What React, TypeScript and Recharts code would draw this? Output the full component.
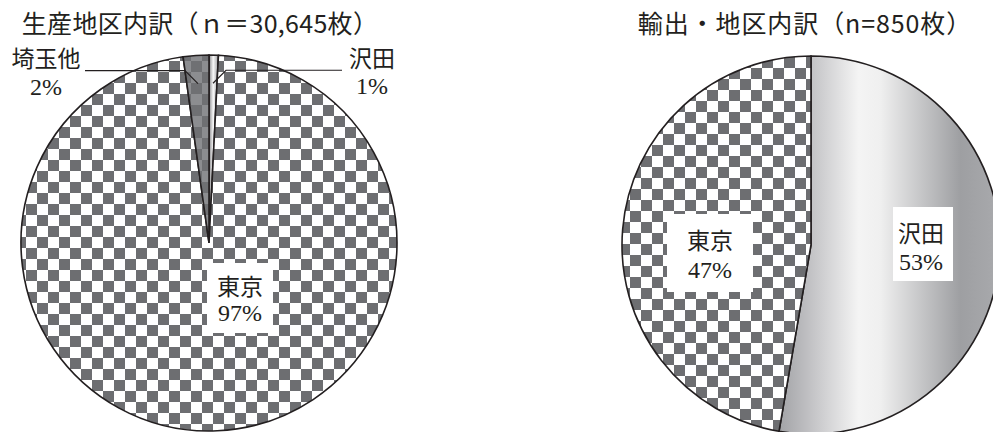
import React from 'react';
import { PieChart, Pie, Cell } from 'recharts';

// ---- data ----
const LEFT_TITLE = '生産地区内訳（ｎ＝30,645枚）';
const RIGHT_TITLE = '輸出・地区内訳（n=850枚）';
const LEFT_NAMES = ['沢田', '東京', '埼玉他'];
const LEFT_VALUES = [245, 29726, 674];
const RIGHT_NAMES = ['沢田', '東京'];
const RIGHT_VALUES = [448, 402];

const leftData = LEFT_NAMES.map((name, i) => ({ name, value: LEFT_VALUES[i] }));
const rightData = RIGHT_NAMES.map((name, i) => ({ name, value: RIGHT_VALUES[i] }));

const INK = '#231f20';
const LABEL_FONT = '"Liberation Serif", "Noto Sans CJK JP", serif';
const TITLE_FONT = '"Noto Sans CJK JP", "Noto Sans", sans-serif';

const leftFills: Record<string, string> = {
  '沢田': 'url(#silverThin)',
  '東京': 'url(#checkL)',
  '埼玉他': 'url(#checkDark)',
};
const rightFills: Record<string, string> = {
  '沢田': 'url(#silver)',
  '東京': 'url(#checkR)',
};

const RAD = Math.PI / 180;
const polar = (cx: number, cy: number, r: number, a: number) => ({
  x: cx + r * Math.cos(-a * RAD),
  y: cy + r * Math.sin(-a * RAD),
});

// boxed label placements, relative to pie centre
const BOXED: Record<string, { tx: number; y1: number; y2: number; bx: number; by: number; bw: number; bh: number }> = {
  'L-東京': { tx: 31, y1: 44, y2: 70, bx: -2, by: 20, bw: 66, bh: 70 },
  'R-東京': { tx: -101, y1: -4, y2: 25, bx: -144, by: -31, bw: 86, bh: 78 },
  'R-沢田': { tx: 110, y1: -11, y2: 17, bx: 82, by: -38, bw: 60, bh: 74 },
};

const txtStyle = (size: number): React.CSSProperties => ({ fontFamily: LABEL_FONT, fontSize: size });

const makeLabel = (side: 'L' | 'R') => (p: any) => {
  const { cx, cy, midAngle, outerRadius, percent } = p;
  const name = p.name ?? p.payload?.name;
  const pct = Math.round(percent * 100) + '%';
  const key = side + '-' + name;
  const box = BOXED[key];
  if (box) {
    return (
      <g>
        <rect x={cx + box.bx} y={cy + box.by} width={box.bw} height={box.bh} fill="#fff" />
        <text x={cx + box.tx} y={cy + box.y1} textAnchor="middle" dominantBaseline="central"
          style={txtStyle(23)} fill={INK}>{name}</text>
        <text x={cx + box.tx} y={cy + box.y2} textAnchor="middle" dominantBaseline="central"
          style={txtStyle(24)} fill={INK}>{pct}</text>
      </g>
    );
  }
  // leader-line labels for the thin slices
  const s = Math.cos(midAngle * RAD) < 0 ? -1 : 1;
  const inner = polar(cx, cy, outerRadius * 0.85, midAngle);
  const elbow = { x: inner.x + s * 13, y: inner.y - 13 };
  const endX = cx + (s < 0 ? -124 : 133);
  const textX = cx + s * 163;
  return (
    <g>
      <polyline points={`${inner.x},${inner.y} ${elbow.x},${elbow.y} ${endX},${elbow.y}`}
        fill="none" stroke={INK} strokeWidth={1.2} />
      <text x={textX} y={elbow.y - 11} textAnchor="middle" dominantBaseline="central"
        style={txtStyle(23)} fill={INK}>{name}</text>
      <text x={textX} y={elbow.y + 16} textAnchor="middle" dominantBaseline="central"
        style={txtStyle(24)} fill={INK}>{pct}</text>
    </g>
  );
};

const Defs = () => (
  <svg width={0} height={0} style={{ position: 'absolute' }}>
    <defs>
      <pattern id="checkL" patternUnits="userSpaceOnUse" x={4} y={6} width={22} height={22}>
        <rect width={22} height={22} fill="#fff" />
        <rect x={0} y={0} width={11} height={11} fill="#6d6e71" />
        <rect x={11} y={11} width={11} height={11} fill="#6d6e71" />
      </pattern>
      <pattern id="checkR" patternUnits="userSpaceOnUse" x={14} y={13} width={22} height={22}>
        <rect width={22} height={22} fill="#fff" />
        <rect x={0} y={0} width={11} height={11} fill="#6d6e71" />
        <rect x={11} y={11} width={11} height={11} fill="#6d6e71" />
      </pattern>
      <pattern id="checkDark" patternUnits="userSpaceOnUse" x={4} y={6} width={22} height={22}>
        <rect width={22} height={22} fill="#8c8d90" />
        <rect x={0} y={0} width={11} height={11} fill="#6f7073" />
        <rect x={11} y={11} width={11} height={11} fill="#6f7073" />
      </pattern>
      <linearGradient id="silver" x1="0" y1="0" x2="1" y2="0">
        <stop offset="0" stopColor="#a2a3a6" />
        <stop offset="0.12" stopColor="#bdbdc0" />
        <stop offset="0.36" stopColor="#f4f4f4" />
        <stop offset="0.46" stopColor="#efefef" />
        <stop offset="0.82" stopColor="#9e9fa2" />
        <stop offset="1" stopColor="#a9aaad" />
      </linearGradient>
      <linearGradient id="silverThin" x1="0" y1="0" x2="1" y2="0">
        <stop offset="0" stopColor="#8a8a8d" />
        <stop offset="0.45" stopColor="#f8f8f8" />
        <stop offset="1" stopColor="#9a9a9d" />
      </linearGradient>
    </defs>
  </svg>
);

const titleStyle = (center: number, spacing: number): React.CSSProperties => ({
  position: 'absolute',
  left: center - 250,
  width: 500,
  top: 10,
  textAlign: 'center',
  fontFamily: TITLE_FONT,
  fontSize: 25,
  lineHeight: '25px',
  letterSpacing: spacing,
  color: INK,
  whiteSpace: 'nowrap',
});

export default function App() {
  return (
    <div style={{ position: 'absolute', left: 0, top: 0, width: 993, height: 432, background: '#fff', overflow: 'hidden' }}>
      <Defs />
      <PieChart width={993} height={432} margin={{ top: 0, right: 0, bottom: 0, left: 0 }}>
        <Pie
          data={leftData}
          dataKey="value"
          nameKey="name"
          cx={209}
          cy={243}
          outerRadius={188}
          startAngle={90}
          endAngle={-270}
          stroke={INK}
          strokeWidth={1.6}
          labelLine={false}
          label={makeLabel('L')}
          isAnimationActive={false}
        >
          {leftData.map((d) => (
            <Cell key={d.name} fill={leftFills[d.name]} stroke={INK} strokeWidth={1.6} />
          ))}
        </Pie>
        <Pie
          data={rightData}
          dataKey="value"
          nameKey="name"
          cx={811}
          cy={245}
          outerRadius={189}
          startAngle={90}
          endAngle={-270}
          stroke={INK}
          strokeWidth={1.6}
          labelLine={false}
          label={makeLabel('R')}
          isAnimationActive={false}
        >
          {rightData.map((d) => (
            <Cell key={d.name} fill={rightFills[d.name]} stroke={INK} strokeWidth={1.6} />
          ))}
        </Pie>
      </PieChart>
      <div style={titleStyle(200, 0.3)}>{LEFT_TITLE}</div>
      <div style={titleStyle(805, 0.9)}>{RIGHT_TITLE}</div>
    </div>
  );
}
